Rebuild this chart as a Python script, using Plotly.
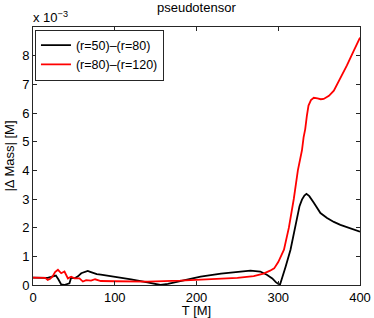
import plotly.graph_objects as go

# values in units of 1e-3 M
t_black = [0, 10, 18, 22, 25, 28, 31, 34.5, 38, 42, 44.6, 46.7, 49, 52, 55, 59, 63, 67, 70, 73, 78, 83,
           100, 120, 140, 150, 156, 165, 180, 205, 230, 250, 266, 278, 286, 292.7, 297, 302, 306, 309,
           315, 320, 323, 326, 329, 332, 334.5, 338, 343.5, 351.6, 359.7, 368, 376, 388, 400]
v_black = [0.26, 0.26, 0.25, 0.28, 0.30, 0.33, 0.2, 0.02, 0.0, 0.03, 0.06, 0.26, 0.24, 0.25, 0.30, 0.41, 0.45, 0.49, 0.46, 0.42, 0.38, 0.36,
           0.29, 0.2, 0.09, 0.04, 0.0, 0.04, 0.14, 0.29, 0.4, 0.47, 0.5, 0.47, 0.36, 0.23, 0.1, 0.0, 0.35, 0.64,
           1.23, 1.95, 2.4, 2.75, 2.98, 3.12, 3.18, 3.1, 2.87, 2.51, 2.34, 2.2, 2.1, 1.97, 1.86]

t_red = [0, 10, 15, 18, 21, 24, 27, 30.5, 34.5, 38.5, 42.7, 46.7, 50.8, 56.8, 61, 65, 71, 76, 83,
         100, 140, 180, 220, 250, 270, 282, 290, 295, 300, 307, 313, 319, 324, 329, 331, 333, 335, 337, 340,
         343.5, 348, 352, 355.6, 362, 368, 376, 384, 392, 400]
v_red = [0.26, 0.26, 0.25, 0.18, 0.22, 0.3, 0.45, 0.53, 0.41, 0.47, 0.23, 0.29, 0.23, 0.23, 0.12, 0.17, 0.15, 0.2, 0.14,
         0.13, 0.12, 0.15, 0.2, 0.25, 0.31, 0.4, 0.5, 0.58, 0.8, 1.23, 2.0, 3.0, 4.0, 4.7, 5.15, 5.44, 5.9, 6.26, 6.45,
         6.53, 6.51, 6.48, 6.49, 6.6, 6.78, 7.2, 7.66, 8.15, 8.63]

x_ticks = [0, 100, 200, 300, 400]
y_ticks = [0, 1, 2, 3, 4, 5, 6, 7, 8]

FONT = "Liberation Sans, Arial, Helvetica, sans-serif"

fig = go.Figure()
fig.add_trace(go.Scatter(x=t_black, y=v_black, mode="lines", name="(r=50)\u2013(r=80)",
                         line=dict(color="black", width=1.8)))
fig.add_trace(go.Scatter(x=t_red, y=v_red, mode="lines", name="(r=80)\u2013(r=120)",
                         line=dict(color="red", width=1.8)))

axis_common = dict(showline=True, linecolor="#262626", linewidth=1, mirror="ticks",
                   ticks="inside", ticklen=4, tickcolor="#262626", showgrid=False, zeroline=False,
                   automargin=False,
                   tickfont=dict(size=13, color="black", family=FONT))

fig.update_layout(
    width=374, height=318,
    margin=dict(l=33, r=14, t=27, b=33),
    paper_bgcolor="white", plot_bgcolor="white",
    font=dict(family=FONT, size=13, color="black"),
    title=dict(text="pseudotensor", x=0.525, xanchor="center", y=0.99, yanchor="top",
               font=dict(size=13, family=FONT)),
    xaxis=dict(range=[0, 400], tickvals=x_ticks, title=dict(text="T [M]", standoff=0, font=dict(size=13)),
               **axis_common),
    yaxis=dict(range=[0, 9], tickvals=y_ticks, title=dict(text="|\u0394 Mass| [M]", standoff=4, font=dict(size=13)),
               **axis_common),
    legend=dict(x=0.006, y=0.99, xanchor="left", yanchor="top", bgcolor="white",
                bordercolor="#262626", borderwidth=1, font=dict(size=12.5, family=FONT),
                tracegroupgap=0, itemwidth=30),
    showlegend=True,
    annotations=[dict(text="x 10<sup>\u22123</sup>", xref="paper", yref="paper", x=-0.005, y=1.0,
                      xanchor="left", yanchor="bottom", showarrow=False, font=dict(size=13, family=FONT))],
)

fig.write_html("out.html", config={"displayModeBar": False},
               post_script="document.body.style.margin='0px';")
